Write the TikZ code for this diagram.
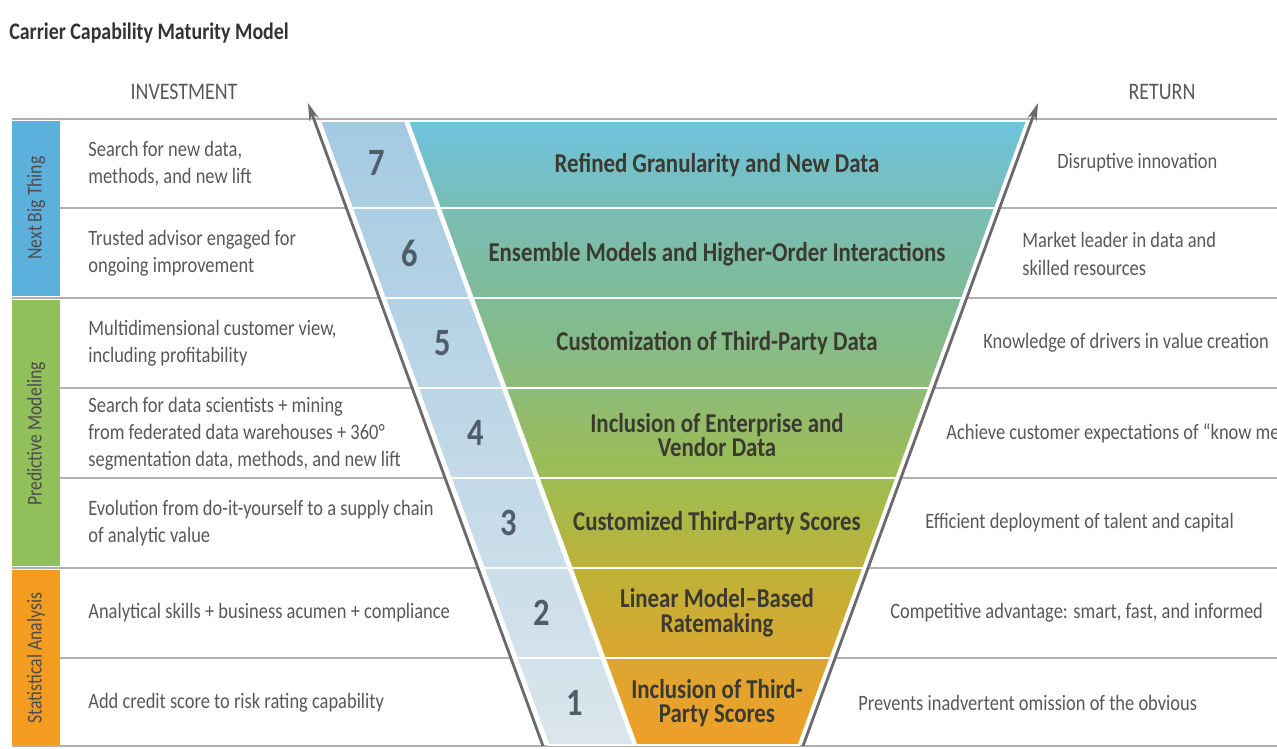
\documentclass[tikz,border=0pt]{standalone}
\usepackage{fontspec}
\setmainfont{Carlito}[FakeStretch=0.84]
\usepackage{xcolor}
\usetikzlibrary{arrows.meta,calc}
\definecolor{ccmblue}{RGB}{92,176,220}
\definecolor{ccmgreen}{RGB}{145,191,90}
\definecolor{ccmorange}{RGB}{244,156,32}
\definecolor{ccmtext}{RGB}{88,88,88}
\definecolor{ccmdark}{RGB}{58,58,48}
\definecolor{ccmnum}{RGB}{80,92,104}
\definecolor{ccmrule}{RGB}{176,176,176}
\definecolor{ccmaxis}{RGB}{105,105,110}
\definecolor{bandhi}{RGB}{164,202,226}
\definecolor{bandlo}{RGB}{220,230,236}
% funnel colours, top to bottom
\definecolor{fun0}{RGB}{110,195,222}
\definecolor{fun1}{RGB}{122,189,181}
\definecolor{fun2}{RGB}{127,187,151}
\definecolor{fun3}{RGB}{141,188,120}
\definecolor{fun4}{RGB}{157,188,82}
\definecolor{fun5}{RGB}{189,178,56}
\definecolor{fun6}{RGB}{219,166,48}
\definecolor{fun7}{RGB}{240,159,40}

\begin{document}
\begin{tikzpicture}[
    x=0.02cm, y=-0.02cm,
    maintitle/.style={anchor=west, inner sep=0pt, text=black!80, font=\bfseries\fontsize{13.5}{15}\selectfont},
    colhead/.style={inner sep=0pt, text=ccmtext, font=\fontsize{13.5}{14}\selectfont},
    desc/.style={anchor=west, align=left, inner sep=0pt, text=ccmtext, font=\fontsize{12.5}{15.5}\selectfont},
    stage/.style={align=center, inner sep=0pt, text=ccmdark, font=\bfseries\fontsize{15.5}{14}\selectfont},
    stepnum/.style={inner sep=0pt, text=ccmnum, font=\bfseries\fontsize{22}{22}\selectfont},
    striplabel/.style={rotate=90, inner sep=0pt, text=black!70, font=\fontsize{12}{12}\selectfont},
    rowrule/.style={draw=ccmrule, line width=1.1pt},
    rowcut/.style={draw=white, line width=1.1pt},
    axisarrow/.style={draw=ccmaxis, line width=1.6pt, -{Stealth[length=10pt, width=5.5pt]}}
]
    \useasboundingbox (0,0) rectangle (1277,749);
    \clip (0,0) rectangle (1277,749);

    % Axis end points
    \coordinate (invbase) at (543,746);
    \coordinate (invtip) at (308,103);
    \coordinate (retbase) at (803,746);
    \coordinate (rettip) at (1038,103);

    % Row rules
    \draw[rowrule] (12,119) -- (1277,119);
    \draw[rowrule] (12,746) -- (1277,746);
    \foreach \y in {208,298,388,478,568,658}{
        \draw[rowrule] (12,\y) -- ($(invbase)!{(746-\y)/643}!(invtip)$);
        \draw[rowrule] ($(retbase)!{(746-\y)/643}!(rettip)$) -- (1277,\y);
    }

    % Phase strips
    \fill[ccmblue] (12,121) rectangle (60,296);
    \fill[ccmgreen] (12,300) rectangle (60,566);
    \fill[ccmorange] (12,570) rectangle (60,745);
    \node[striplabel] (nextbig) at (36,208) {Next Big Thing};
    \node[striplabel] (predictive) at (36,434) {Predictive Modeling};
    \node[striplabel] (statistical) at (36,658) {Statistical Analysis};

    % Funnel rows
    \foreach \k/\yt/\yb in {0/121/208,1/208/298,2/298/388,3/388/478,4/478/568,5/568/658,6/658/745}{
        \pgfmathsetmacro\dt{0.366*(\yt-121)}
        \pgfmathsetmacro\db{0.366*(\yb-121)}
        \pgfmathtruncatemacro\kn{\k+1}
        \pgfmathtruncatemacro\pa{100-14*\k}
        \pgfmathtruncatemacro\pb{100-14*\kn}
        \draw[rowcut, top color=bandhi!\pa!bandlo, bottom color=bandhi!\pb!bandlo]
            (320+\dt,\yt) -- (405+\dt,\yt) -- (405+\db,\yb) -- (320+\db,\yb) -- cycle;
        \draw[rowcut, top color=fun\k, bottom color=fun\kn]
            (408+\dt,\yt) -- (1027-\dt,\yt) -- (1027-\db,\yb) -- (408+\db,\yb) -- cycle;
    }

    % Axes
    \draw[axisarrow] (invbase) -- (invtip);
    \draw[axisarrow] (retbase) -- (rettip);

    % Headings
    \node[maintitle] (title) at (9,33) {Carrier Capability Maturity Model};
    \node[colhead] (investment) at (184,92) {INVESTMENT};
    \node[colhead] (return) at (1162,92) {RETURN};

    % Levels
    \node[stepnum] (num7) at (377,163) {7};
    \node[stepnum] (num6) at (410,253) {6};
    \node[stepnum] (num5) at (443,343) {5};
    \node[stepnum] (num4) at (476,433) {4};
    \node[stepnum] (num3) at (509,523) {3};
    \node[stepnum] (num2) at (542,613) {2};
    \node[stepnum] (num1) at (575,703) {1};

    \node[stage] (stage7) at (717,165) {Refined Granularity and New Data};
    \node[stage] (stage6) at (717,254) {Ensemble Models and Higher-Order Interactions};
    \node[stage] (stage5) at (717,343) {Customization of Third-Party Data};
    \node[stage] (stage4) at (717,435) {Inclusion of Enterprise and\\Vendor Data};
    \node[stage] (stage3) at (717,523) {Customized Third-Party Scores};
    \node[stage] (stage2) at (717,613) {Linear Model--Based\\Ratemaking};
    \node[stage] (stage1) at (717,703) {Inclusion of Third-\\Party Scores};

    % Investment side
    \node[desc] (inv7) at (88,164) {Search for new data,\\methods, and new lift};
    \node[desc] (inv6) at (88,253) {Trusted advisor engaged for\\ongoing improvement};
    \node[desc] (inv5) at (88,343) {Multidimensional customer view,\\including profitability};
    \node[desc] (inv4) at (88,434) {Search for data scientists + mining\\from federated data warehouses + 360°\\segmentation data, methods, and new lift};
    \node[desc] (inv3) at (88,523) {Evolution from do-it-yourself to a supply chain\\of analytic value};
    \node[desc] (inv2) at (88,613) {Analytical skills + business acumen + compliance};
    \node[desc] (inv1) at (88,703) {Add credit score to risk rating capability};

    % Return side
    \node[desc] (ret7) at (1057,163) {Disruptive innovation};
    \node[desc] (ret6) at (1022,254) {Market leader in data and\\skilled resources};
    \node[desc] (ret5) at (983,343) {Knowledge of drivers in value creation};
    \node[desc] (ret4) at (946,433) {Achieve customer expectations of “know me};
    \node[desc] (ret3) at (925,523) {Efficient deployment of talent and capital};
    \node[desc] (ret2) at (890,613) {Competitive advantage: smart, fast, and informed};
    \node[desc] (ret1) at (858,703) {Prevents inadvertent omission of the obvious};
\end{tikzpicture}
\end{document}
